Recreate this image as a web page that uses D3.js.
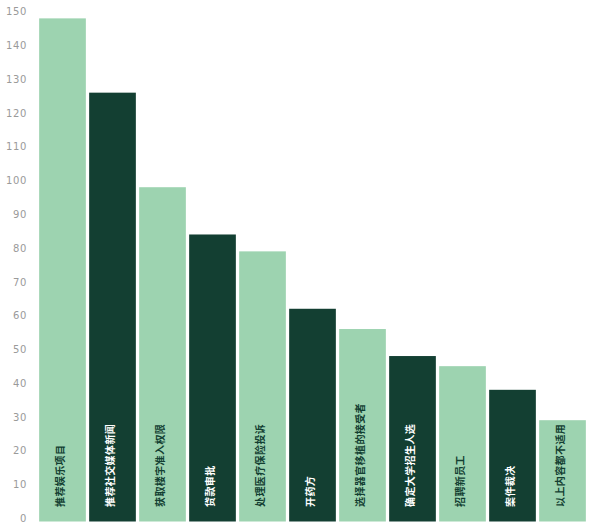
<!DOCTYPE html>
<html>
<head>
<meta charset="utf-8">
<script src="https://cdn.jsdelivr.net/npm/d3@7"></script>
<style>
  body { margin: 0; background: #fff; }
</style>
</head>
<body>
<div id="chart"></div>
<script>
// data
var categories = ["推荐娱乐项目", "推荐社交媒体新闻", "获取楼宇准入权限", "贷款审批", "处理医疗保险投诉",
  "开药方", "选择器官移植的接受者", "确定大学招生人选", "招聘新员工", "案件裁决", "以上内容都不适用"];
var values = [149, 127, 99, 85, 80, 63, 57, 49, 46, 39, 30];
var yTicks = [0, 10, 20, 30, 40, 50, 60, 70, 80, 90, 100, 110, 120, 130, 140, 150];

var w = 593;
var h = 531;
var light = "#9dd3b0";
var dark = "#133f32";

var svg = d3.select("#chart")
  .append("svg")
  .attr("width", w)
  .attr("height", h);

var x = d3.scaleBand()
  .domain(categories)
  .range([37.5, 587.5])
  .paddingInner(0.066)
  .paddingOuter(0.033);

var y = d3.scaleLinear()
  .domain([0, 150])
  .range([521.5, 15]);

// y axis labels, no line
var yAxis = d3.axisLeft(y).tickValues(yTicks).tickSize(0).tickPadding(0);
var ga = svg.append("g")
  .attr("transform", "translate(27,0)")
  .call(yAxis);
ga.select(".domain").remove();
ga.selectAll("text")
  .attr("dy", "0.32em")
  .attr("y", -3.3)
  .attr("fill", "#9a9a9a")
  .attr("font-family", "DejaVu Sans, sans-serif")
  .attr("font-size", 10)
  .attr("letter-spacing", "0.6px");

// bars
svg.selectAll("rect.bar")
  .data(categories)
  .enter()
  .append("rect")
  .attr("class", "bar")
  .attr("x", function(d) { return x(d); })
  .attr("y", function(d, i) { return y(values[i]); })
  .attr("width", x.bandwidth())
  .attr("height", function(d, i) { return y(0) - y(values[i]); })
  .attr("fill", function(d, i) { return i % 2 == 0 ? light : dark; });

// rotated labels inside bars
svg.selectAll("text.lab")
  .data(categories)
  .enter()
  .append("text")
  .attr("class", "lab")
  .text(function(d) { return d; })
  .attr("transform", function(d) {
    return "translate(" + (x(d) + x.bandwidth() / 2 - 2) + "," + (y(0) - 14.5) + ") rotate(-90)";
  })
  .attr("dy", "0.35em")
  .attr("text-anchor", "start")
  .attr("font-family", "Noto Sans CJK SC, sans-serif")
  .attr("font-size", 10)
  .attr("font-weight", "bold")
  .attr("letter-spacing", "0.4px")
  .attr("fill", function(d, i) { return i % 2 == 0 ? dark : "#ffffff"; });
</script>
</body>
</html>
